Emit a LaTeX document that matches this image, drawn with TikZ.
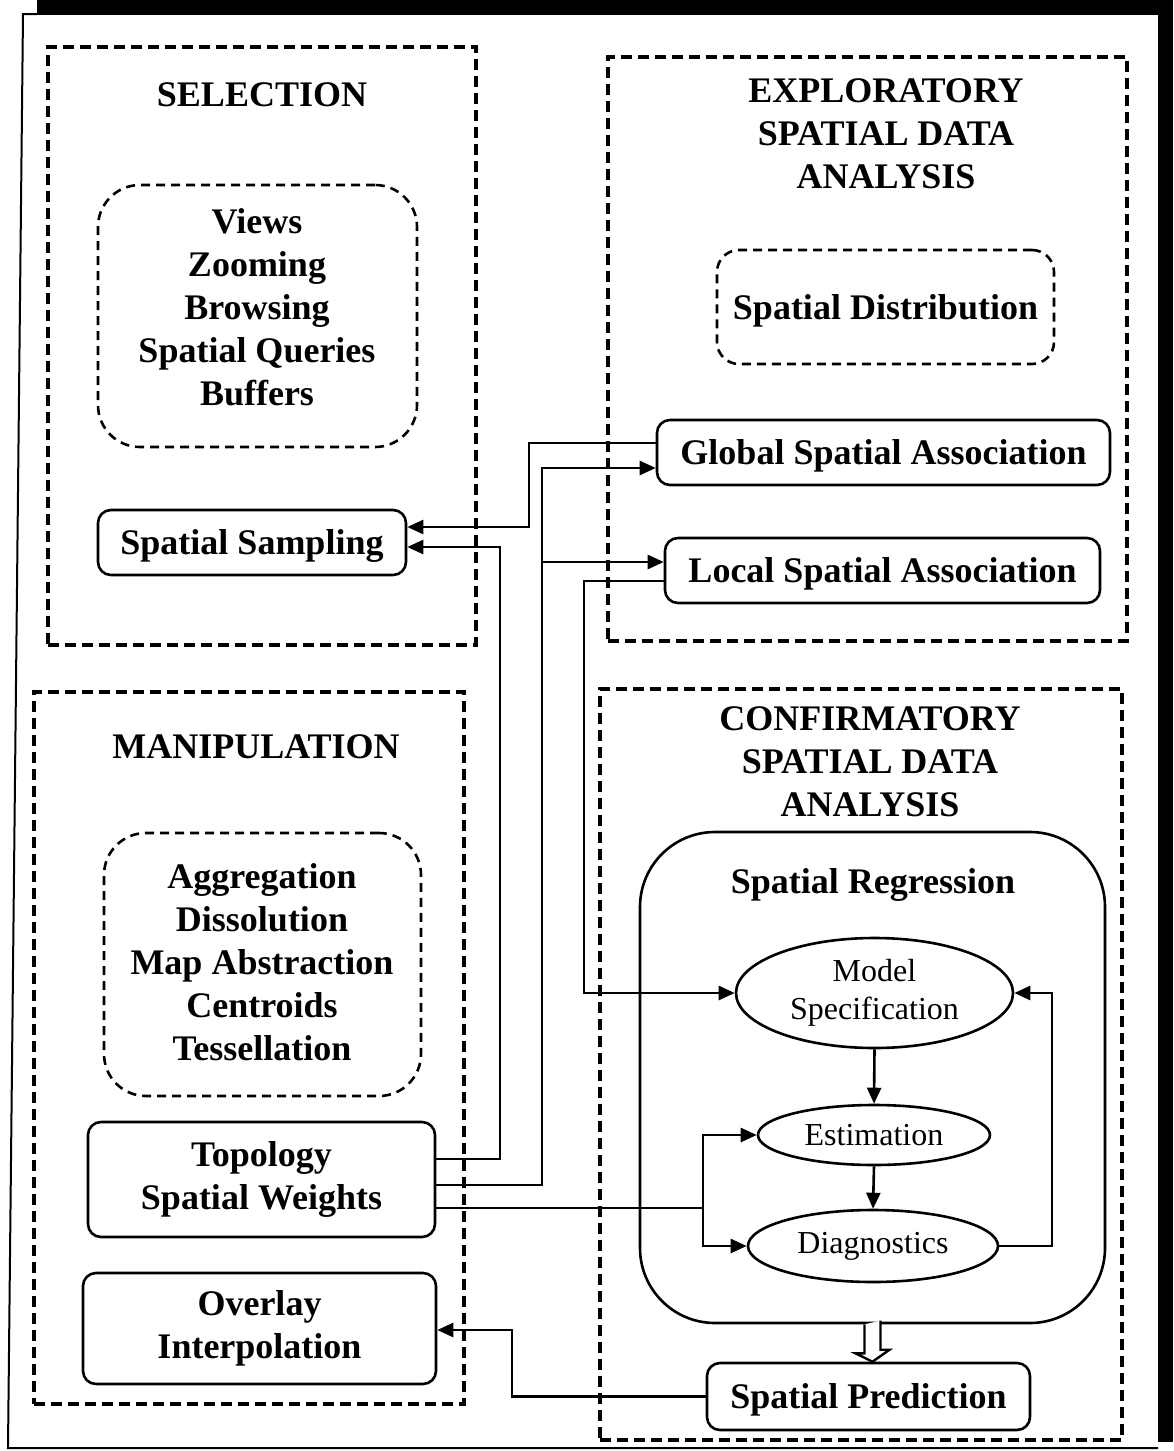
\documentclass[tikz,border=0pt]{standalone}
\usepackage{fontspec}
\setmainfont{Liberation Serif}
\usetikzlibrary{shapes.geometric,arrows.meta}
\begin{document}
\begin{tikzpicture}[x=1pt,y=-1pt,
  bigtxt/.style={font=\fontsize{36}{43}\selectfont\bfseries, align=center, inner sep=0pt},
  region/.style={draw, line width=3.2pt, dash pattern=on 11pt off 6pt, inner sep=0pt},
  group/.style={draw, line width=2.6pt, dash pattern=on 9pt off 6pt, rounded corners=42pt, inner sep=0pt},
  sbox/.style={draw, line width=2.6pt, rounded corners=13pt, inner sep=0pt, align=center,
     font=\fontsize{36}{43}\selectfont\bfseries},
  oneline/.style={text height=24pt, text depth=0pt},
  ell/.style={draw, ellipse, line width=2.6pt, inner sep=0pt, align=center,
     font=\fontsize{32}{38}\selectfont},
  arr/.style={line width=2.6pt, -{Triangle[length=16pt,width=14pt]}},
  ln/.style={line width=2.6pt}
]
\useasboundingbox (0,0) rectangle (1173,1451);
% outer frame
\fill (37,0) rectangle (1173,15);
\fill (1158,0) rectangle (1173,1442);
\draw[line width=2pt] (37,14) -- (23,14) -- (8,1448) -- (1158,1448);

% regions
\node[region, minimum width=428, minimum height=598] (sel) at (262,346) {};
\node[region, minimum width=519, minimum height=584] (esda) at (867.5,349) {};
\node[region, minimum width=430, minimum height=712] (man) at (249,1048) {};
\node[region, minimum width=522, minimum height=751] (csda) at (861,1064.5) {};

% headings
\node[bigtxt] (selt) at (262,95) {SELECTION};
\node[bigtxt] (esdat) at (886,134) {EXPLORATORY\\SPATIAL DATA\\ANALYSIS};
\node[bigtxt] (mant) at (256,747) {MANIPULATION};
\node[bigtxt] (csdat) at (870,762) {CONFIRMATORY\\SPATIAL DATA\\ANALYSIS};

% grouped lists
\node[group, minimum width=319, minimum height=262] (viewsbox) at (257.5,316) {};
\node[bigtxt] (views) at (257,307) {Views\\Zooming\\Browsing\\Spatial Queries\\Buffers};
\node[group, minimum width=317, minimum height=263] (aggbox) at (262.5,964.5) {};
\node[bigtxt] (agg) at (262,962) {Aggregation\\Dissolution\\Map Abstraction\\Centroids\\Tessellation};
\node[group, rounded corners=22pt, minimum width=337, minimum height=114, oneline,
      font=\fontsize{36}{43}\selectfont\bfseries] (distr) at (885.5,307) {Spatial Distribution};

% solid boxes
\node[sbox, oneline, minimum width=308, minimum height=65] (samp) at (252,542.5) {Spatial Sampling};
\node[sbox, oneline, minimum width=453, minimum height=65] (glob) at (883.5,452.5) {Global Spatial Association};
\node[sbox, oneline, minimum width=435, minimum height=65] (loc) at (882.5,570.5) {Local Spatial Association};
\node[sbox, minimum width=347, minimum height=115] (topo) at (261.5,1179.5) {Topology\\Spatial Weights};
\node[sbox, minimum width=353, minimum height=111] (over) at (259.5,1328.5) {Overlay\\Interpolation};
\node[sbox, oneline, minimum width=323, minimum height=67] (pred) at (868.5,1396.5) {Spatial Prediction};

% spatial regression
\node[draw, line width=2.6pt, rounded corners=75pt, minimum width=465, minimum height=491, inner sep=0pt] (reg) at (872.5,1077.5) {};
\node[bigtxt] (regt) at (873,885) {Spatial Regression};
\node[ell, minimum width=277, minimum height=110] (model) at (874.5,993) {Model\\Specification};
\node[ell, minimum width=232, minimum height=60] (est) at (874,1135) {Estimation};
\node[ell, minimum width=250, minimum height=72] (diag) at (873,1246) {Diagnostics};

% connectors
\draw[arr] (glob.west |- 0,443) -- (529,443) |- (samp.east |- 0,527);
\draw[arr] (topo.east |- 0,1159) -| (500,547) -- (samp.east |- 0,547);
\draw[arr] (topo.east |- 0,1185) -| (542,468) -- (glob.west |- 0,468);
\draw[arr] (542,562) -- (loc.west |- 0,562);
\draw[arr] (loc.west |- 0,581) -| (584,993) -- (model.west);
\draw[ln] (topo.east |- 0,1208) -- (703,1208);
\draw[arr] (703,1208) |- (est.west);
\draw[arr] (703,1208) |- (diag.west);
\draw[arr] (diag.east) -- (diag.east -| 1052,0) |- (model.east);
\draw[arr] (model.south) -- (est.north);
\draw[arr] (est.south) -- (diag.north);
\draw[arr] (pred.west) -| (512,1330) -- (over.east |- 0,1330);
% hollow arrow
\draw[line width=2.4pt, fill=white, line join=miter]
  ([xshift=-8pt]reg.south) -- ++(0,29) -- ++(-9,0) -- (reg.south |- pred.north)
  -- ++(17,-12) -- ++(-9,0) -- ++(0,-29);
\end{tikzpicture}
\end{document}
